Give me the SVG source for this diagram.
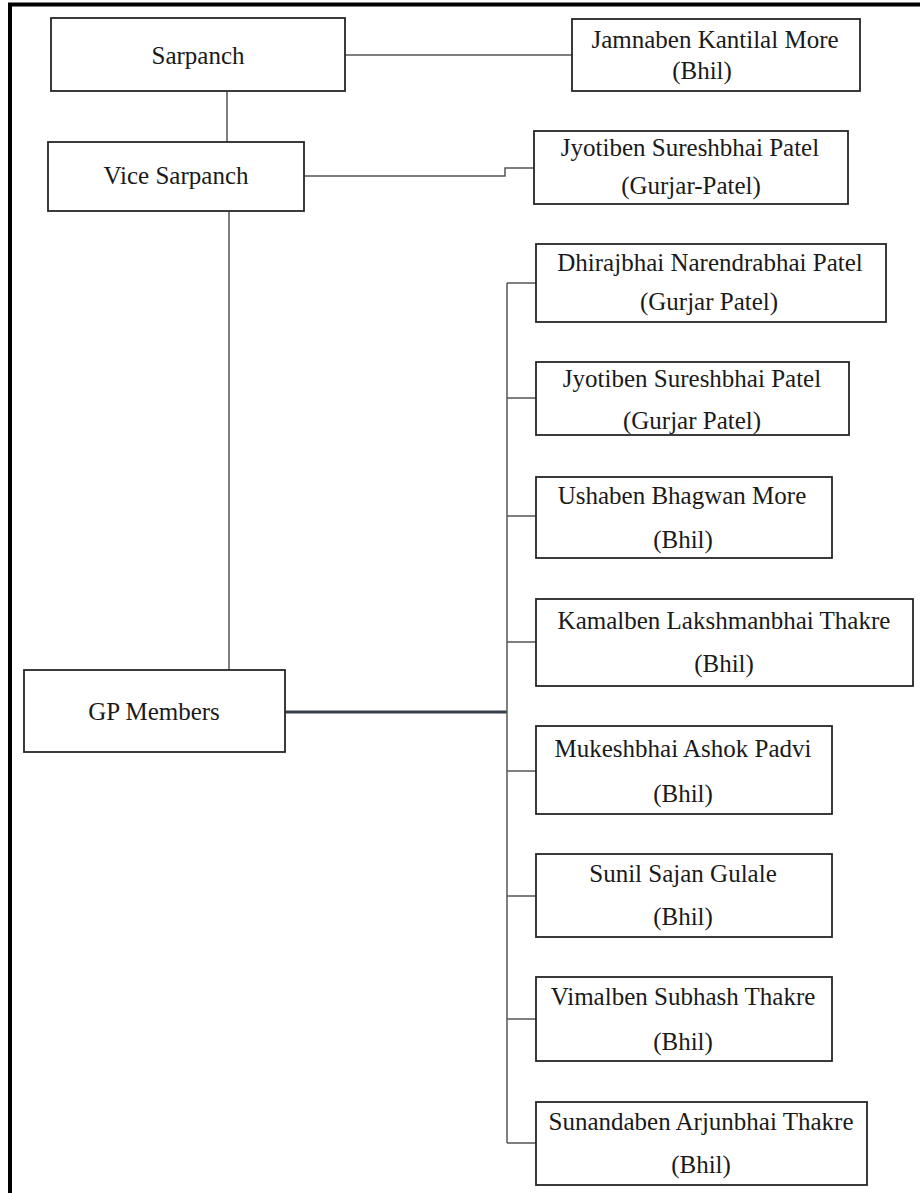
<svg xmlns="http://www.w3.org/2000/svg" width="920" height="1193" viewBox="0 0 920 1193">
  <style>
    .box { fill: #ffffff; stroke: #262626; stroke-width: 1.8; }
    .lbl { font-family: "Liberation Serif", "Times New Roman", serif; font-size: 25px; fill: #1a1a1a; text-anchor: middle; }
    .link { fill: none; stroke: #555555; stroke-width: 1.5; }
    .link-main { fill: none; stroke: #34404c; stroke-width: 3; }
    .frame { fill: none; stroke: #000000; stroke-width: 4; }
  </style>
  <rect x="0" y="0" width="920" height="1193" fill="#ffffff"/>

  <!-- outer frame -->
  <g id="frame">
    <line class="frame" x1="8" y1="4.5" x2="920" y2="4.5"/>
    <line class="frame" x1="10" y1="3" x2="10" y2="1193"/>
  </g>

  <!-- connectors -->
  <g id="connectors">
    <line class="link" x1="345" y1="55" x2="572" y2="55"/>
    <line class="link" x1="227" y1="91" x2="227" y2="142"/>
    <polyline class="link" points="304,176 505,176 505,168 534,168"/>
    <line class="link" x1="229" y1="211" x2="229" y2="670"/>
    <line class="link-main" x1="285" y1="712" x2="507" y2="712"/>
    <line class="link" x1="507" y1="283" x2="507" y2="1143"/>
    <line class="link" x1="507" y1="283" x2="536" y2="283"/>
    <line class="link" x1="507" y1="398" x2="536" y2="398"/>
    <line class="link" x1="507" y1="516" x2="536" y2="516"/>
    <line class="link" x1="507" y1="642" x2="536" y2="642"/>
    <line class="link" x1="507" y1="771" x2="536" y2="771"/>
    <line class="link" x1="507" y1="896" x2="536" y2="896"/>
    <line class="link" x1="507" y1="1019" x2="536" y2="1019"/>
    <line class="link" x1="507" y1="1143" x2="536" y2="1143"/>
  </g>

  <g id="sarpanch">
    <rect class="box" x="51" y="18" width="294" height="73"/>
    <text class="lbl" x="198" y="64">Sarpanch</text>
  </g>

  <g id="sarpanch-name">
    <rect class="box" x="572" y="19" width="288" height="72"/>
    <text class="lbl" x="715" y="48">Jamnaben Kantilal More</text>
    <text class="lbl" x="702" y="79">(Bhil)</text>
  </g>

  <g id="vice-sarpanch">
    <rect class="box" x="48" y="142" width="256" height="69"/>
    <text class="lbl" x="176" y="184">Vice Sarpanch</text>
  </g>

  <g id="vice-sarpanch-name">
    <rect class="box" x="534" y="131" width="314" height="73"/>
    <text class="lbl" x="690" y="156">Jyotiben Sureshbhai Patel</text>
    <text class="lbl" x="691" y="194">(Gurjar-Patel)</text>
  </g>

  <g id="gp-members">
    <rect class="box" x="24" y="670" width="261" height="82"/>
    <text class="lbl" x="154" y="720">GP Members</text>
  </g>

  <g id="member-1">
    <rect class="box" x="536" y="244" width="350" height="78"/>
    <text class="lbl" x="710" y="271">Dhirajbhai Narendrabhai Patel</text>
    <text class="lbl" x="709" y="310">(Gurjar Patel)</text>
  </g>

  <g id="member-2">
    <rect class="box" x="536" y="362" width="313" height="73"/>
    <text class="lbl" x="692" y="387">Jyotiben Sureshbhai Patel</text>
    <text class="lbl" x="692" y="429">(Gurjar Patel)</text>
  </g>

  <g id="member-3">
    <rect class="box" x="536" y="477" width="296" height="81"/>
    <text class="lbl" x="682" y="504">Ushaben Bhagwan More</text>
    <text class="lbl" x="683" y="548">(Bhil)</text>
  </g>

  <g id="member-4">
    <rect class="box" x="536" y="599" width="377" height="87"/>
    <text class="lbl" x="724" y="629">Kamalben Lakshmanbhai Thakre</text>
    <text class="lbl" x="724" y="672">(Bhil)</text>
  </g>

  <g id="member-5">
    <rect class="box" x="536" y="726" width="296" height="88"/>
    <text class="lbl" x="683" y="757">Mukeshbhai Ashok Padvi</text>
    <text class="lbl" x="683" y="802">(Bhil)</text>
  </g>

  <g id="member-6">
    <rect class="box" x="536" y="854" width="296" height="83"/>
    <text class="lbl" x="683" y="882">Sunil Sajan Gulale</text>
    <text class="lbl" x="683" y="925">(Bhil)</text>
  </g>

  <g id="member-7">
    <rect class="box" x="536" y="977" width="296" height="84"/>
    <text class="lbl" x="683" y="1005">Vimalben Subhash Thakre</text>
    <text class="lbl" x="683" y="1050">(Bhil)</text>
  </g>

  <g id="member-8">
    <rect class="box" x="536" y="1102" width="331" height="83"/>
    <text class="lbl" x="701" y="1130">Sunandaben Arjunbhai Thakre</text>
    <text class="lbl" x="701" y="1173">(Bhil)</text>
  </g>
</svg>
